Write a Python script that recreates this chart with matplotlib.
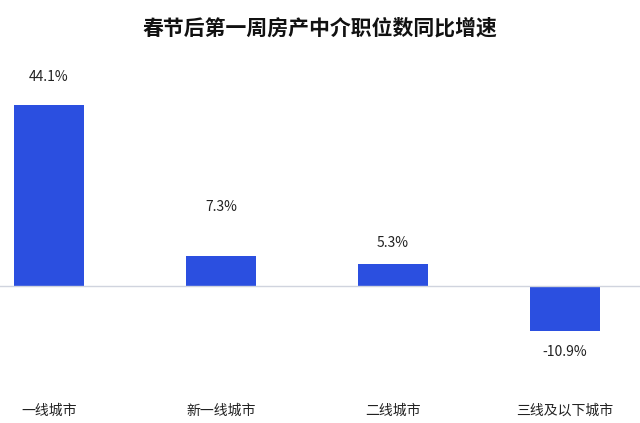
import matplotlib
matplotlib.use("Agg")
import matplotlib.pyplot as plt

categories = ["一线城市", "新一线城市", "二线城市", "三线及以下城市"]
values = [44.1, 7.3, 5.3, -10.9]
labels = ["44.1%", "7.3%", "5.3%", "-10.9%"]
label_offsets = [20, 35, 15, 15]  # points

plt.rcParams["font.family"] = "Noto Sans CJK SC"
fig = plt.figure(figsize=(6.4, 4.23), dpi=100)
# axes in pixel coordinates: left 0, right 640, top 60, bottom 380
ax = fig.add_axes([0, 43/423, 1, 320/423])
x = list(range(len(categories)))
ax.bar(x, values, width=0.41, color="#2B4FE0")
ax.set_xlim(-0.285, 3.436)
ax.set_ylim(-22.9, 55.1)
ax.axhline(0, color="#d0d4de", lw=1)
for i, (v, t, o) in enumerate(zip(values, labels, label_offsets)):
    ax.annotate(t, (i, v), xytext=(0, o if v >= 0 else -o), textcoords="offset points",
                ha="center", va="center", fontsize=10, color="#222222")
for i, c in enumerate(categories):
    ax.annotate(c, (i, -22.9), xytext=(0, -22), textcoords="offset points",
                ha="center", va="center", fontsize=10, color="#222222", annotation_clip=False)
ax.axis("off")
fig.text(0.5, 1 - 28/423, "春节后第一周房产中介职位数同比增速", ha="center", va="center",
         fontsize=15, fontweight="bold", color="#111111")
fig.savefig("out.png", dpi=100)
